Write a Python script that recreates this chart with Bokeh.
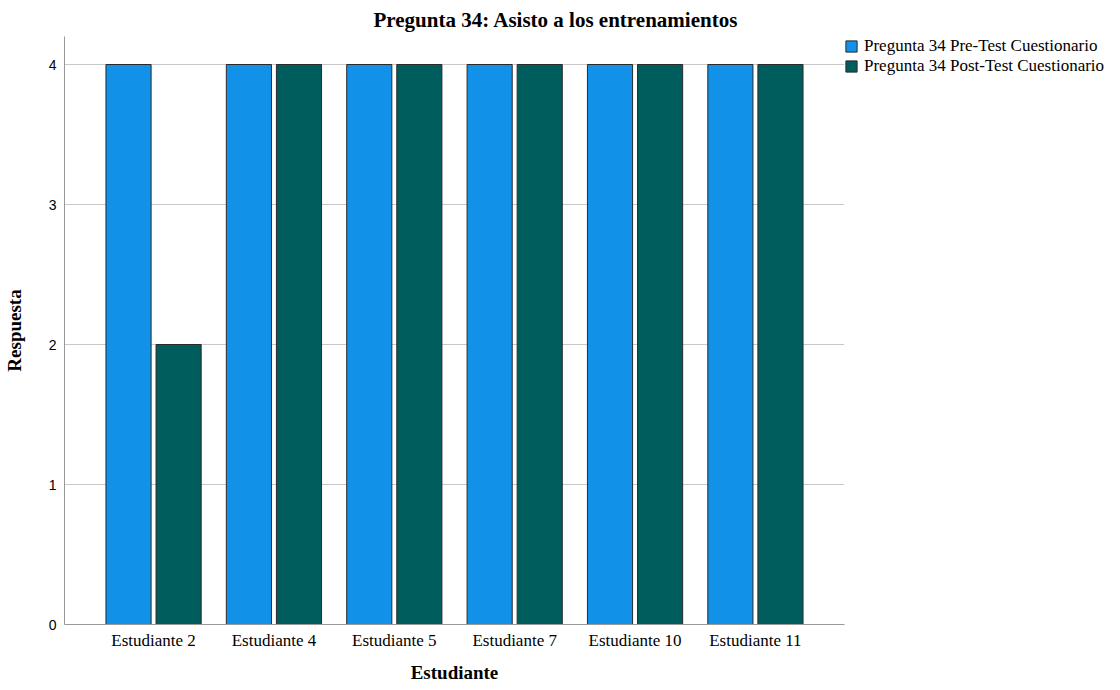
from bokeh.plotting import figure
from bokeh.models import ColumnDataSource, FactorRange, Range1d, FixedTicker, Legend, LegendItem
from bokeh.transform import dodge
from bokeh.embed import file_html
from bokeh.resources import INLINE

categories = ["Estudiante 2", "Estudiante 4", "Estudiante 5", "Estudiante 7", "Estudiante 10", "Estudiante 11"]
pre_test = [4, 4, 4, 4, 4, 4]
post_test = [2, 4, 4, 4, 4, 4]
series_names = ["Pregunta 34 Pre-Test Cuestionario", "Pregunta 34 Post-Test Cuestionario"]
y_ticks = [0, 1, 2, 3, 4]

SERIF = "Liberation Serif"
SANS = "Liberation Sans"
BLUE = "#1192E8"
TEAL = "#005D5D"
OUTLINE = "#2a2a2a"

src = ColumnDataSource(dict(cat=categories, pre=pre_test, post=post_test))

p = figure(
    frame_width=780, frame_height=588,
    x_range=FactorRange(factors=categories, range_padding=0.08, range_padding_units="percent"),
    y_range=Range1d(0, 4.2),
    output_backend="svg", toolbar_location=None,
    min_border_left=0, min_border_right=0, min_border_top=0, min_border_bottom=0,
)

r1 = p.vbar(x=dodge("cat", -0.208, range=p.x_range), top="pre", width=0.375, source=src,
            fill_color=BLUE, line_color=OUTLINE, line_width=1)
r2 = p.vbar(x=dodge("cat", 0.208, range=p.x_range), top="post", width=0.375, source=src,
            fill_color=TEAL, line_color=OUTLINE, line_width=1)

legend = Legend(items=[LegendItem(label=series_names[0], renderers=[r1]),
                       LegendItem(label=series_names[1], renderers=[r2])],
                location="top_left", orientation="vertical",
                glyph_width=14, glyph_height=14, label_standoff=6, spacing=0,
                padding=0, margin=0, border_line_color=None, background_fill_alpha=0,
                label_text_font=SERIF, label_text_font_size="17px", label_text_color="#000000",
                label_height=20)
p.add_layout(legend, "right")

# Title
p.title.text = "Pregunta 34: Asisto a los entrenamientos"
p.title.text_font = SERIF
p.title.text_font_style = "bold"
p.title.text_font_size = "21px"
p.title.align = "left"
p.title.offset = 309
p.title.standoff = 10
p.title.text_color = "#000000"

# Axes
p.xaxis.axis_label = "Estudiante"
p.yaxis.axis_label = "Respuesta"
for ax in (p.xaxis[0], p.yaxis[0]):
    ax.axis_label_text_font = SERIF
    ax.axis_label_text_font_style = "bold"
    ax.axis_label_text_font_size = "19px"
    ax.axis_label_text_color = "#000000"
    ax.axis_line_color = "#999999"
    ax.axis_line_width = 1
    ax.major_tick_out = 0
    ax.major_tick_in = 0
    ax.minor_tick_out = 0
    ax.minor_tick_in = 0
    ax.major_label_text_color = "#000000"

p.xaxis.major_label_text_font = SERIF
p.xaxis.major_label_text_font_size = "17px"
p.xaxis.major_label_standoff = 6
p.xaxis.axis_label_standoff = 9

p.yaxis.ticker = FixedTicker(ticks=y_ticks)
p.yaxis.major_label_text_font = SANS
p.yaxis.major_label_text_font_size = "14px"
p.yaxis.major_label_standoff = 8
p.yaxis.axis_label_standoff = 21

p.xgrid.grid_line_color = None
p.ygrid.ticker = FixedTicker(ticks=y_ticks[1:])
p.ygrid.grid_line_color = "#c8c8c8"
p.ygrid.grid_line_width = 1

p.outline_line_color = None
p.background_fill_color = "#ffffff"
p.border_fill_color = "#ffffff"

open("out.html", "w").write(file_html(p, INLINE))
